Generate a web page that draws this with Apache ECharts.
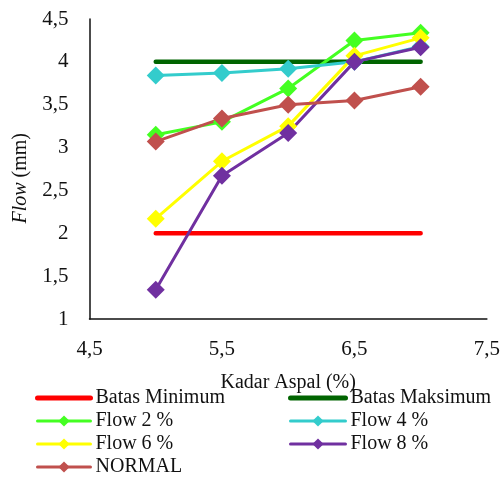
<!DOCTYPE html>
<html><head><meta charset="utf-8">
<script src="https://cdn.jsdelivr.net/npm/echarts@6/dist/echarts.min.js"></script>
<style>html,body{margin:0;padding:0;background:#fff}#c{width:503px;height:477px}</style>
</head><body><div id="c"></div>
<script>
var xValues = [5, 5.5, 6, 6.5, 7];
var batasMin = [2, 2, 2, 2, 2];
var batasMaks = [4, 4, 4, 4, 4];
var flow2 = [3.15, 3.30, 3.69, 4.25, 4.34];
var flow4 = [3.84, 3.87, 3.92, 4.00, 4.18];
var flow6 = [2.17, 2.84, 3.25, 4.07, 4.28];
var flow8 = [1.34, 2.67, 3.17, 4.00, 4.17];
var normal = [3.07, 3.34, 3.50, 3.55, 3.71];
var yTicks = [1, 1.5, 2, 2.5, 3, 3.5, 4, 4.5];
var xTicks = [4.5, 5.5, 6.5, 7.5];

function pairs(arr){ return xValues.map(function(x,i){ return [x, arr[i]]; }); }
var font = '"Liberation Serif", "Times New Roman", serif';
function mk(name, data, color, width, marker){
  return {
    name: name, type: 'line', data: pairs(data),
    symbol: marker ? 'diamond' : 'none', symbolSize: 18, showSymbol: !!marker,
    lineStyle: {color: color, width: width, cap: 'round'},
    itemStyle: {color: color},
    emphasis: {disabled: true}, animation: false
  };
}
var chart = echarts.init(document.getElementById('c'));
var fmt = function(v){ return String(v).replace('.', ','); };
var legText = {fontFamily: font, fontSize: 20, color: '#111'};
function li(name, batas){
  return batas ? {name: name, itemStyle: {opacity: 0}, lineStyle: {width: 5}}
               : {name: name, lineStyle: {width: 3}};
}
chart.setOption({
  backgroundColor: '#fff',
  animation: false,
  grid: {left: 89.5, right: 15, top: 19, bottom: 158, containLabel: false},
  xAxis: {
    type: 'value', min: 4.5, max: 7.5, interval: 1,
    axisLine: {show: true, lineStyle: {color: '#111', width: 1.5}},
    axisTick: {show: false}, splitLine: {show: false},
    axisLabel: {formatter: fmt, fontFamily: font, fontSize: 21, color: '#111', margin: 20},
    name: 'Kadar Aspal (%)', nameLocation: 'middle', nameGap: 54,
    nameTextStyle: {fontFamily: font, fontSize: 20, color: '#111'}
  },
  yAxis: {
    type: 'value', min: 1, max: 4.5, interval: 0.5,
    axisLine: {show: true, lineStyle: {color: '#111', width: 1.5}},
    axisTick: {show: false}, splitLine: {show: false},
    axisLabel: {formatter: fmt, fontFamily: font, fontSize: 21, color: '#111', margin: 21}
  },
  graphic: [{
    type: 'text', left: 11, top: 133, rotation: Math.PI/2,
    style: {
      text: '{i|Flow} (mm)',
      rich: {i: {fontStyle: 'italic', fontFamily: font, fontSize: 20, fill: '#111'}},
      font: '20px ' + font, fill: '#111'
    }
  }],
  legend: [{
    orient: 'vertical', left: 35, top: 388, padding: 0, itemGap: 3, itemWidth: 53, itemHeight: 14, height: 100,
    data: [li('Batas Minimum', true), li('Flow 2 %'), li('Flow 6 %'), li('NORMAL')],
    textStyle: legText, selectedMode: false
  }, {
    orient: 'vertical', left: 288, top: 388, padding: 0, itemGap: 3, itemWidth: 55, itemHeight: 14, height: 100,
    data: [li('Batas Maksimum', true), li('Flow 4 %'), li('Flow 8 %')],
    textStyle: legText, selectedMode: false
  }],
  series: [
    mk('Batas Minimum', batasMin, '#ff0000', 4.5, false),
    mk('Batas Maksimum', batasMaks, '#006400', 4.5, false),
    mk('Flow 2 %', flow2, '#44ff22', 3, true),
    mk('Flow 4 %', flow4, '#33cccc', 3, true),
    mk('Flow 6 %', flow6, '#ffff00', 3, true),
    mk('Flow 8 %', flow8, '#7030a0', 3, true),
    mk('NORMAL', normal, '#c0504d', 3, true)
  ]
});
</script></body></html>
